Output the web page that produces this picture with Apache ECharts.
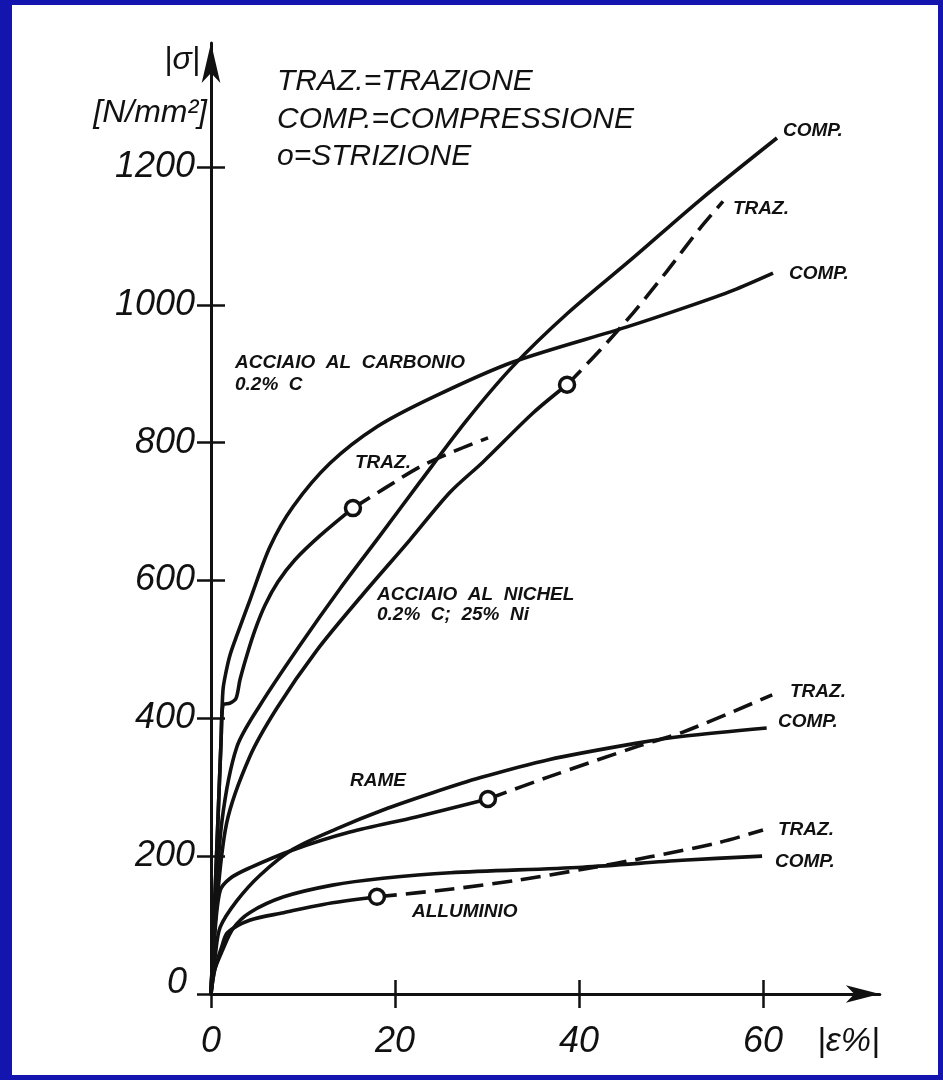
<!DOCTYPE html>
<html><head><meta charset="utf-8">
<script src="https://cdn.jsdelivr.net/npm/echarts@6/dist/echarts.min.js"></script>
<style>
html,body{margin:0;padding:0;background:#1414ae;width:943px;height:1080px;overflow:hidden;}
#frame{position:absolute;left:12px;top:5px;width:926px;height:1070px;background:#fff;}
#chart{position:absolute;left:0;top:0;width:943px;height:1080px;}
</style></head><body><div id="frame"></div><div id="chart"></div>
<script>
// ---- data (x = |ε%|, y = |σ| N/mm²) ----
const xTicks = [0, 20, 40, 60];
const yTicks = [0, 200, 400, 600, 800, 1000, 1200];

const carbonComp = [[0,0],[0.6,200],[1.1,370],[1.3,441],[1.63,467],[2.07,492],[2.83,521],[4.24,572],[6.41,649],[8.91,707],[12.93,770],[18.04,823],[24.13,866],[32.83,917],[45.22,968],[51.74,997],[56.74,1021],[61.09,1046]];
const carbonTraz = [[0,0],[0.6,200],[1.1,370],[1.3,419],[2.07,422],[2.72,429],[3.15,456],[3.91,492],[4.78,528],[5.87,564],[7.28,598],[9.13,630],[11.85,665],[15.43,705]];
const carbonTrazNeck = [[15.43,705],[18.91,734],[22.72,765],[26.52,788],[30.11,807]];

const nickelComp = [[0,0],[0.4,110],[1.2,252],[2.8,358],[5.33,419],[9.67,506],[14.02,588],[18.37,665],[22.72,743],[27.83,833],[32.83,911],[38.7,987],[45.87,1068],[53.15,1152],[61.52,1242]];
const nickelTraz = [[0,0],[0.5,110],[1.7,248],[4.2,344],[7.17,415],[11.52,499],[16.52,580],[21.63,659],[25.98,728],[29.57,772],[35.0,843],[38.7,884]];
const nickelTrazNeck = [[38.7,884],[42.28,934],[45.87,988],[49.57,1049],[53.15,1111],[55.65,1150]];

const rameComp = [[0,0],[0.5,60],[1.0,97],[2.8,135],[5.3,172],[8.9,210],[13.7,240],[18.7,267],[24.1,292],[29.3,314],[36.7,340],[46.3,364],[51.3,374],[60.4,386]];
const rameTraz = [[0,0],[0.4,85],[1.0,150],[2.1,168],[4.2,183],[8.9,209],[15.1,235],[22.3,257],[30.1,283]];
const rameTrazNeck = [[30.1,283],[36.7,315],[46.3,359],[51.3,380],[61.0,434]];

const alluComp = [[0,0],[0.4,35],[1.2,62],[2.4,95],[4.2,118],[7.9,141],[13.2,158],[18.7,168],[26.0,176],[40.4,184],[51.2,194],[59.9,200]];
const alluTraz = [[0,0],[0.4,35],[1.2,70],[1.8,89],[4.2,107],[7.9,118],[12.2,130],[18.04,141]];
const alluTrazNeck = [[18.04,141],[25.98,152],[33.26,165],[40.43,181],[47.72,199],[55.0,219],[60.0,238]];

const strizione = [[15.43,705],[38.7,884],[30.1,283],[18.04,141]];

// ---- chart ----
const INK = '#111';
const FONT = '"Liberation Sans", Arial, sans-serif';
const X0 = 211, PXX = 9.2, Y0 = 994, PXY = 0.6892;
const XMAX = 72.7, YMAX = 1380;
const gridRect = {left: X0, right: 943 - (X0 + XMAX*PXX), top: Y0 - YMAX*PXY, bottom: 1080 - Y0, containLabel: false};

function curve(name, data, dashed) {
  return {
    name, type: 'line', data, xAxisIndex: 0, yAxisIndex: 0,
    showSymbol: false, smooth: 0.3, silent: true, animation: false,
    lineStyle: {color: INK, width: 3.6, type: dashed ? [20, 9] : 'solid', cap: 'butt', join: 'round'},
    z: 3
  };
}

const labelFont = 'italic bold 19px ' + FONT;
function txt(x, y, t, font, align) {
  return {type: 'text', x, y, style: {text: t, font, fill: INK, textAlign: align || 'left', textVerticalAlign: 'middle'}, z: 10};
}

const option = {
  animation: false,
  grid: [Object.assign({}, gridRect), Object.assign({}, gridRect)],
  xAxis: [{
    gridIndex: 0, type: 'value', min: 0, max: XMAX,
    axisLine: {show: true, lineStyle: {color: INK, width: 3}, symbol: ['none', 'arrow'], symbolSize: [13, 34]},
    axisTick: {show: true, customValues: xTicks, length: 14, lineStyle: {color: INK, width: 2.5}},
    axisLabel: {show: true, customValues: xTicks, color: INK, fontSize: 36, fontStyle: 'italic', fontFamily: FONT, margin: 30},
    splitLine: {show: false}
  }, {
    gridIndex: 1, type: 'value', min: 0, max: XMAX,
    axisLine: {show: false},
    axisTick: {show: true, inside: true, customValues: xTicks, length: 14, lineStyle: {color: INK, width: 2.5}},
    axisLabel: {show: false}, splitLine: {show: false}
  }],
  yAxis: [{
    gridIndex: 0, type: 'value', min: 0, max: YMAX,
    axisLine: {show: true, lineStyle: {color: INK, width: 3}, symbol: ['none', 'arrow'], symbolSize: [14, 40]},
    axisTick: {show: true, customValues: yTicks, length: 14, lineStyle: {color: INK, width: 2.5}},
    axisLabel: {
      show: true, customValues: yTicks, color: INK, fontSize: 36, fontStyle: 'italic', fontFamily: FONT, margin: 16,
      formatter: v => v === 0 ? '{z|0}' : String(v),
      rich: {z: {fontSize: 36, fontStyle: 'italic', fontFamily: FONT, color: INK, padding: [0, 8, 22, 0]}}
    },
    splitLine: {show: false}
  }, {
    gridIndex: 1, type: 'value', min: 0, max: YMAX,
    axisLine: {show: false},
    axisTick: {show: true, inside: true, customValues: yTicks, length: 14, lineStyle: {color: INK, width: 2.5}},
    axisLabel: {show: false}, splitLine: {show: false}
  }],
  series: [
    curve('Acciaio al carbonio COMP.', carbonComp, false),
    curve('Acciaio al carbonio TRAZ.', carbonTraz, false),
    curve('Acciaio al carbonio TRAZ. (strizione)', carbonTrazNeck, true),
    curve('Acciaio al nichel COMP.', nickelComp, false),
    curve('Acciaio al nichel TRAZ.', nickelTraz, false),
    curve('Acciaio al nichel TRAZ. (strizione)', nickelTrazNeck, true),
    curve('Rame COMP.', rameComp, false),
    curve('Rame TRAZ.', rameTraz, false),
    curve('Rame TRAZ. (strizione)', rameTrazNeck, true),
    curve('Alluminio COMP.', alluComp, false),
    curve('Alluminio TRAZ.', alluTraz, false),
    curve('Alluminio TRAZ. (strizione)', alluTrazNeck, true),
    {
      name: 'Strizione', type: 'scatter', data: strizione, xAxisIndex: 0, yAxisIndex: 0,
      symbol: 'circle', symbolSize: 15, silent: true, z: 5,
      itemStyle: {color: '#ffffff', opacity: 1, borderColor: INK, borderWidth: 3.5},
      emphasis: {disabled: true}
    }
  ],
  graphic: [
    txt(200, 60, '|σ|', 'italic 32px ' + FONT, 'right'),
    txt(207, 113, '[N/mm²]', 'italic 32px ' + FONT, 'right'),
    txt(277, 82, 'TRAZ.=TRAZIONE', 'italic 30px ' + FONT),
    txt(277, 120, 'COMP.=COMPRESSIONE', 'italic 30px ' + FONT),
    txt(277, 157, 'o=STRIZIONE', 'italic 30px ' + FONT),
    txt(817, 1042, '|ε%|', 'italic 34px ' + FONT),
    txt(783, 131, 'COMP.', labelFont),
    txt(733, 209, 'TRAZ.', labelFont),
    txt(789, 274, 'COMP.', labelFont),
    txt(235, 363, 'ACCIAIO  AL  CARBONIO', labelFont),
    txt(235, 385, '0.2%  C', labelFont),
    txt(355, 463, 'TRAZ.', labelFont),
    txt(377, 595, 'ACCIAIO  AL  NICHEL', labelFont),
    txt(377, 615, '0.2%  C;  25%  Ni', labelFont),
    txt(350, 781, 'RAME', labelFont),
    txt(412, 912, 'ALLUMINIO', labelFont),
    txt(790, 692, 'TRAZ.', labelFont),
    txt(778, 722, 'COMP.', labelFont),
    txt(778, 830, 'TRAZ.', labelFont),
    txt(775, 862, 'COMP.', labelFont)
  ]
};

const chart = echarts.init(document.getElementById('chart'), null, {renderer: 'canvas'});
chart.setOption(option);
</script>
</body></html>
